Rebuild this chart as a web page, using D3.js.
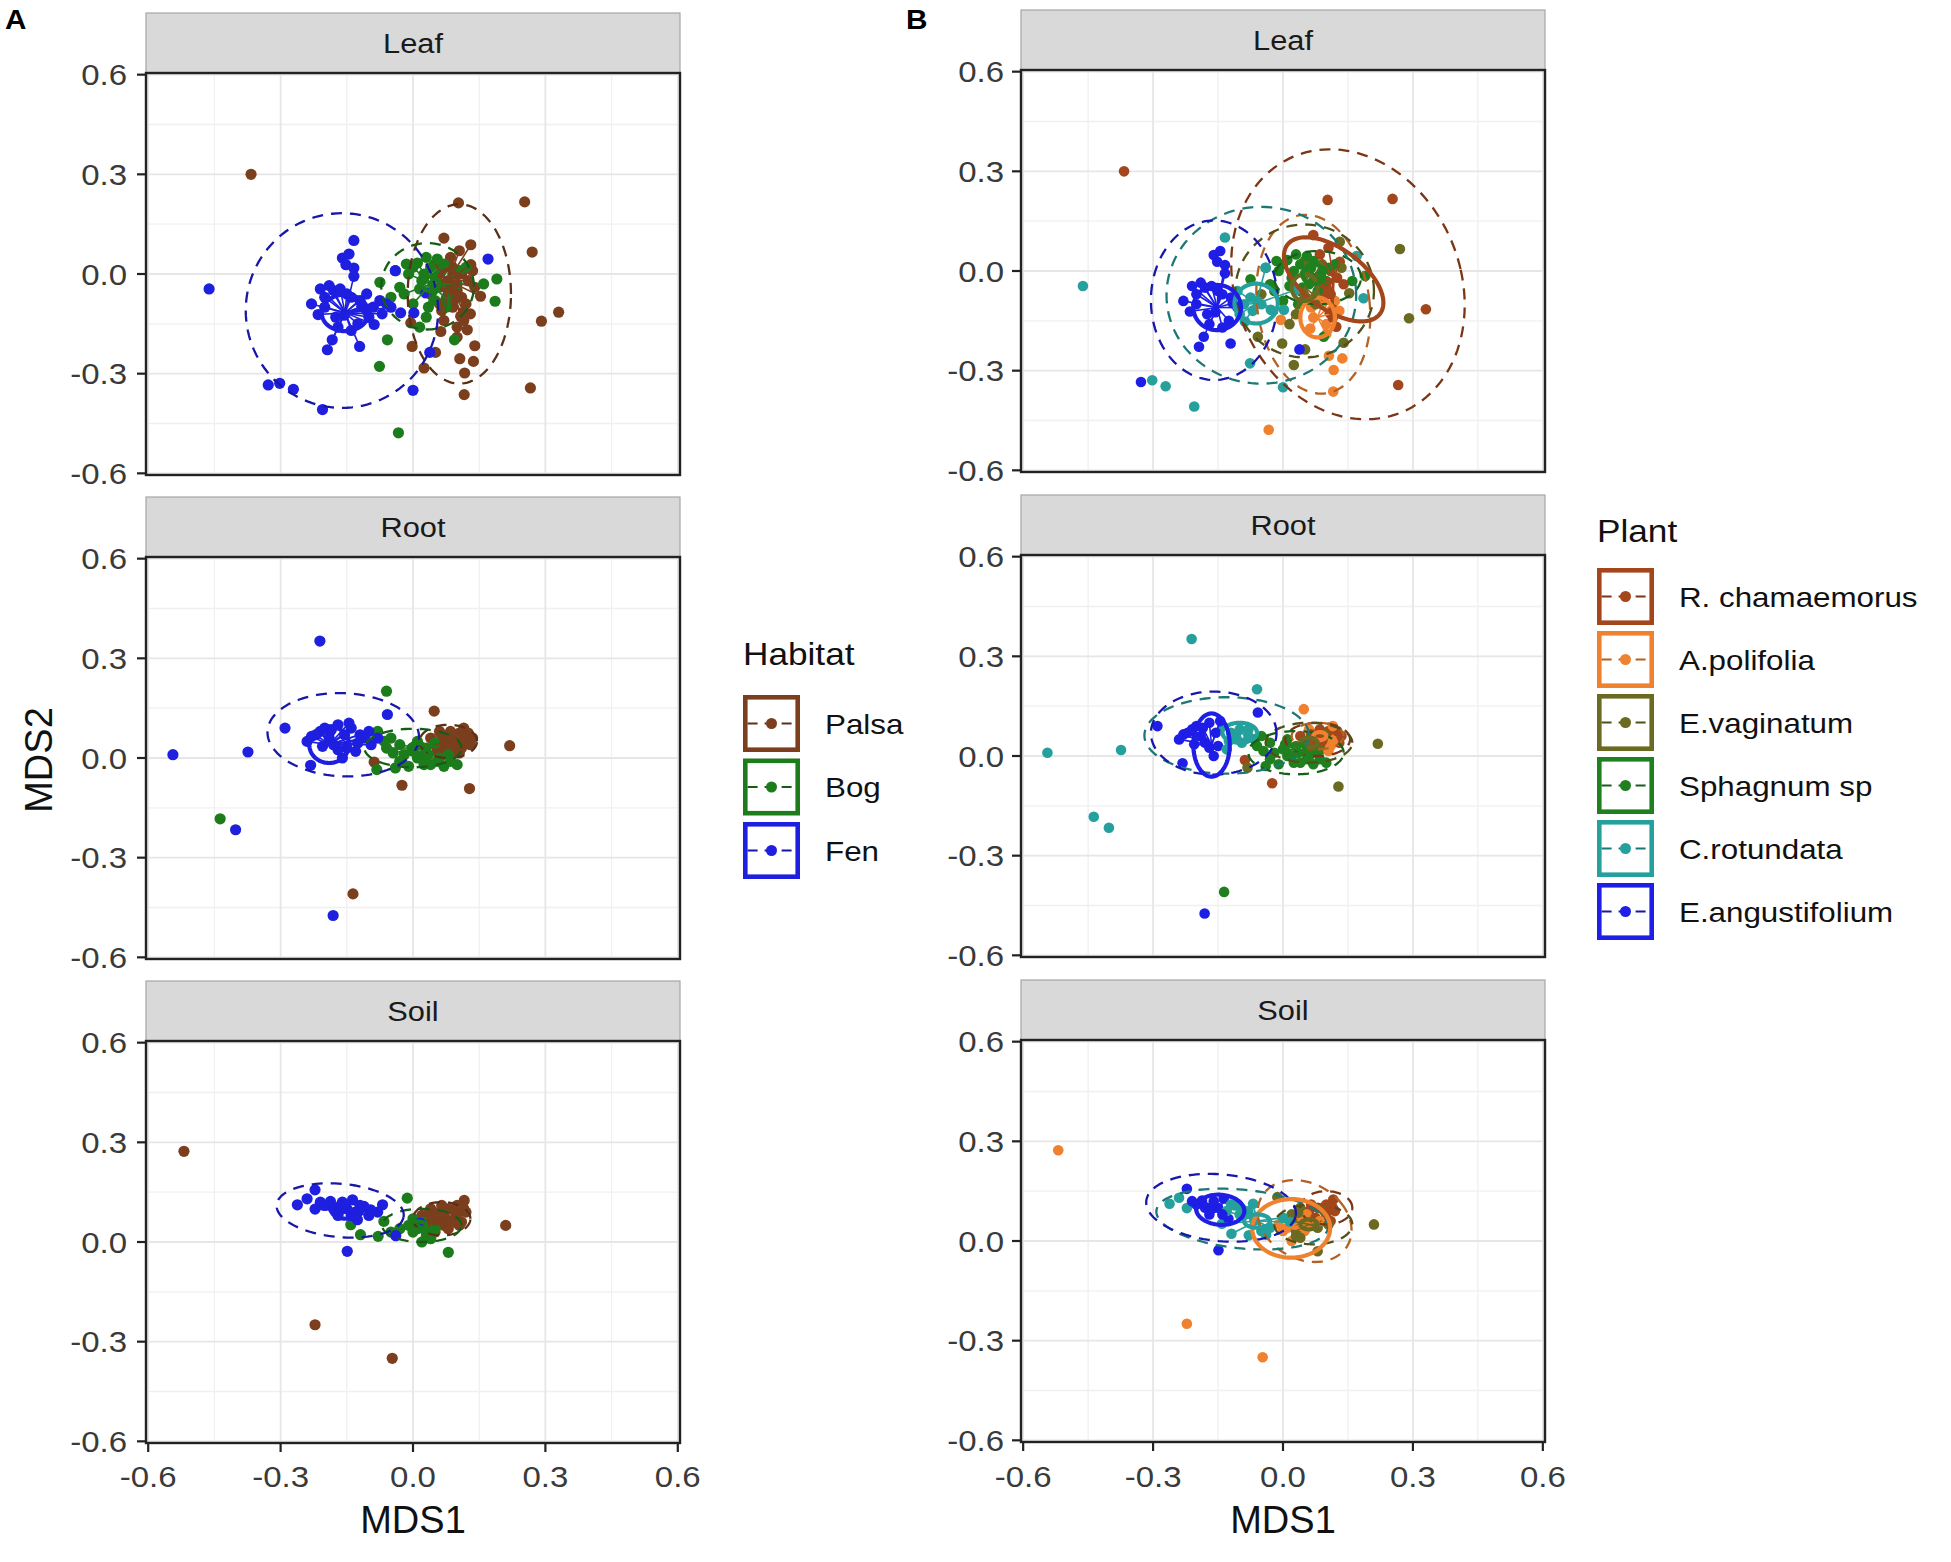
<!DOCTYPE html>
<html><head><meta charset="utf-8">
<script src="https://cdn.jsdelivr.net/npm/d3@7"></script>
<style>body{margin:0;background:#fff} svg{display:block} text{font-family:"Liberation Sans",Arial,sans-serif}</style>
</head><body><svg id="c" width="1951" height="1562"></svg>
<script>
const tissues = ["Leaf","Root","Soil"];
const habitats = ["Palsa","Bog","Fen"];
const habitatColors = ["#7B3F1E","#1C7C1C","#1F1FE0"];
const plants = ["R. chamaemorus","A.polifolia","E.vaginatum","Sphagnum sp","C.rotundata","E.angustifolium"];
const plantColors = ["#A4461C","#F0812F","#6A6A20","#1F801F","#25A09C","#1E1EE6"];
const majorTicks = [-0.6,-0.3,0,0.3,0.6];
const tickLabels = ["-0.6","-0.3","0.0","0.3","0.6"];
const minorTicks = [-0.45,-0.15,0.15,0.45];

// points: [MDS1, MDS2, habitat index, plant index]
const leafPoints = [
 [-0.367,0.300,0,0],[0.103,0.214,0,0],[0.253,0.217,0,0],[0.270,0.066,0,2],[0.330,-0.115,0,0],[0.291,-0.142,0,2],[0.266,-0.343,0,0],[0.116,-0.363,0,1],[0.117,-0.298,0,1],[0.137,-0.263,0,1],[0.106,-0.255,0,1],[0.140,-0.216,0,2],[0.025,-0.283,0,2],[-0.002,-0.218,0,2],[0.051,-0.236,0,2],[0.070,0.108,0,0],[0.131,0.088,0,2],[0.153,-0.067,0,2],[0.131,0.028,0,0],[-0.005,-0.147,0,1],[0.063,-0.173,0,1],[0.123,-0.168,0,0],[0.108,-0.127,0,0],[0.080,-0.020,0,0],[0.100,-0.050,0,0],[0.060,0.000,0,2],[0.120,-0.090,0,1],[0.090,-0.100,0,1],[0.040,-0.060,0,2],[0.110,0.000,0,0],[0.070,-0.140,0,1],[0.140,-0.040,0,0],[0.100,-0.190,0,1],[0.050,0.030,0,2],[0.115,-0.115,0,0],[0.085,0.050,0,0],[0.095,-0.075,0,0],
 [0.070,-0.030,0,0],[0.090,0.020,0,2],[0.110,-0.070,0,0],[0.130,-0.120,0,1],[0.060,-0.090,0,2],[0.100,-0.160,0,1],[0.125,-0.020,0,0],[0.085,-0.045,0,0],[0.065,-0.110,0,1],[0.115,-0.140,0,0],[0.135,0.010,0,2],[0.105,0.070,0,0],
 [-0.033,-0.478,1,1],[-0.076,-0.278,1,4],[-0.058,-0.198,1,2],[-0.075,-0.025,1,3],[0.186,-0.082,1,4],[0.190,-0.015,1,3],[0.094,-0.198,1,3],[0.010,0.033,1,3],[-0.040,0.010,1,3],[-0.030,-0.040,1,3],[0.000,-0.090,1,3],[0.030,-0.130,1,2],[0.040,0.020,1,3],[0.070,0.030,1,3],[0.090,0.000,1,3],[0.060,-0.040,1,3],[0.020,-0.020,1,3],[0.050,-0.080,1,2],[0.080,-0.060,1,3],[0.120,0.020,1,3],[-0.010,0.000,1,3],[0.030,0.050,1,3],[0.100,-0.030,1,3],[-0.050,-0.070,1,2],[0.015,-0.160,1,2],[0.160,-0.030,1,3],[0.050,-0.010,1,3],[0.075,-0.100,1,2],
 [0.000,0.020,1,3],[0.025,0.000,1,3],[0.045,-0.050,1,3],[0.065,0.010,1,3],[0.085,-0.030,1,3],[0.035,-0.100,1,3],[-0.020,-0.060,1,3],[0.055,0.045,1,3],[0.105,0.010,1,3],[0.015,-0.045,1,3],[0.075,-0.075,1,2],[-0.015,0.030,1,3],
 [-0.462,-0.045,2,4],[-0.134,0.101,2,4],[-0.160,0.048,2,5],[-0.152,0.028,2,5],[-0.134,0.018,2,5],[-0.134,-0.007,2,5],[-0.210,-0.045,2,5],[-0.180,-0.050,2,5],[-0.150,-0.060,2,5],[-0.120,-0.080,2,5],[-0.090,-0.100,2,4],[-0.215,-0.122,2,5],[-0.156,-0.124,2,5],[-0.116,-0.097,2,5],[-0.088,-0.152,2,4],[-0.183,-0.198,2,5],[-0.194,-0.228,2,5],[-0.121,-0.218,2,5],[-0.328,-0.334,2,5],[-0.302,-0.329,2,4],[-0.271,-0.347,2,4],[-0.205,-0.408,2,4],[0.000,-0.350,2,4],[0.038,-0.236,2,5],[-0.028,-0.117,2,4],[0.002,-0.117,2,4],[0.170,0.045,2,4],[0.029,-0.057,2,4],[-0.040,0.010,2,4],[-0.200,-0.070,2,5],[-0.170,-0.160,2,5],[-0.100,-0.130,2,4],[-0.060,-0.090,2,4],[-0.230,-0.090,2,5],
 [-0.190,-0.035,2,5],[-0.165,-0.045,2,5],[-0.140,-0.070,2,5],[-0.200,-0.100,2,5],[-0.105,-0.110,2,5],[-0.125,-0.150,2,5],[-0.175,-0.130,2,5],[-0.140,-0.170,2,5],[-0.105,-0.060,2,4],[-0.075,-0.080,2,4],[-0.070,-0.120,2,4],[-0.050,-0.100,2,4],[-0.145,0.060,2,5]
];
const rootPoints = [
 [0.048,0.141,0,1],[0.219,0.037,0,2],[0.128,-0.092,0,2],[-0.025,-0.082,0,0],[-0.088,-0.012,0,0],[-0.136,-0.409,0,3],[0.040,0.060,0,0],[0.060,0.080,0,1],[0.080,0.070,0,1],[0.100,0.050,0,0],[0.120,0.060,0,1],[0.070,0.030,0,0],[0.090,0.020,0,2],[0.050,0.040,0,0],[0.110,0.030,0,1],[0.060,0.000,0,2],[0.090,0.045,0,0],[0.130,0.040,0,0],[0.075,0.055,0,2],[0.105,0.075,0,0],
 [0.085,0.080,0,0],[0.115,0.045,0,1],[0.095,0.065,0,2],[0.065,0.065,0,0],[0.125,0.075,0,0],[0.105,0.015,0,1],[0.075,0.015,0,2],[0.055,0.020,0,0],[0.115,0.090,0,1],[0.135,0.060,0,0],
 [-0.060,0.201,1,4],[-0.437,-0.183,1,4],[-0.082,-0.035,1,2],[-0.080,0.080,1,4],[-0.050,0.060,1,3],[-0.030,0.040,1,3],[0.000,0.020,1,3],[0.020,0.000,1,3],[0.040,-0.020,1,3],[0.060,0.000,1,3],[-0.030,-0.010,1,3],[-0.010,-0.025,1,3],[0.030,0.030,1,2],[0.080,0.010,1,3],[0.100,-0.020,1,3],[-0.040,-0.030,1,3],[0.050,0.045,1,3],[-0.060,0.030,1,3],[0.010,0.050,1,3],
 [-0.020,0.010,1,3],[0.010,0.000,1,3],[0.035,0.010,1,3],[0.055,-0.010,1,3],[0.070,-0.025,1,3],[-0.045,0.015,1,3],[0.005,0.035,1,3],[0.085,-0.010,1,3],[0.025,-0.020,1,3],[-0.065,0.050,1,3],
 [-0.211,0.352,2,4],[-0.544,0.010,2,4],[-0.374,0.018,2,4],[-0.290,0.090,2,5],[-0.402,-0.216,2,4],[-0.181,-0.474,2,5],[-0.232,-0.022,2,5],[-0.058,0.131,2,5],[-0.220,0.070,2,5],[-0.200,0.090,2,5],[-0.170,0.100,2,5],[-0.140,0.090,2,4],[-0.120,0.070,2,4],[-0.180,0.040,2,5],[-0.150,0.030,2,5],[-0.130,0.020,2,4],[-0.240,0.050,2,5],[-0.100,0.080,2,4],[-0.080,0.060,2,4],[-0.190,0.060,2,5],[-0.160,0.000,2,5],
 [-0.210,0.080,2,5],[-0.185,0.085,2,5],[-0.155,0.070,2,5],[-0.125,0.045,2,4],[-0.205,0.035,2,5],[-0.170,0.025,2,5],[-0.110,0.060,2,4],[-0.095,0.040,2,4],[-0.145,0.105,2,5],[-0.230,0.065,2,5]
];
const soilPoints = [
 [-0.519,0.273,0,1],[-0.222,-0.249,0,1],[-0.047,-0.350,0,1],[0.210,0.050,0,2],[0.116,0.125,0,0],[0.040,0.070,0,1],[0.060,0.090,0,0],[0.080,0.100,0,0],[0.030,0.050,0,2],[0.070,0.050,0,1],[0.090,0.060,0,2],[0.050,0.030,0,1],[0.020,0.080,0,2],[0.100,0.080,0,0],[0.080,0.040,0,2],[0.060,0.060,0,1],[0.110,0.060,0,0],[0.040,0.100,0,2],[0.100,0.110,0,0],[0.120,0.090,0,0],
 [0.055,0.080,0,1],[0.075,0.070,0,0],[0.095,0.090,0,2],[0.045,0.050,0,0],[0.085,0.060,0,1],[0.065,0.110,0,0],[0.105,0.050,0,2],[0.035,0.085,0,2],[0.115,0.100,0,0],
 [-0.013,0.132,1,2],[0.080,-0.031,1,2],[-0.066,0.062,1,4],[-0.119,0.022,1,4],[-0.079,0.017,1,4],[-0.141,0.052,1,4],[-0.010,0.050,1,1],[0.010,0.040,1,1],[0.030,0.030,1,2],[0.000,0.070,1,4],[0.020,0.000,1,1],[0.040,0.010,1,2],
 [0.000,0.030,1,1],[0.020,0.060,1,2],[0.050,0.040,1,1],[-0.030,0.040,1,4],[0.030,0.015,1,2],[-0.050,0.030,1,4],
 [-0.262,0.112,2,4],[-0.222,0.157,2,5],[-0.222,0.099,2,4],[-0.187,0.122,2,5],[-0.164,0.097,2,5],[-0.137,0.127,2,5],[-0.111,0.107,2,4],[-0.096,0.097,2,4],[-0.069,0.112,2,4],[-0.126,0.067,2,5],[-0.149,-0.028,2,5],[-0.039,0.019,2,4],[0.016,0.057,2,4],[-0.200,0.110,2,5],[-0.170,0.080,2,5],[-0.150,0.100,2,5],[-0.130,0.090,2,4],
 [-0.240,0.130,2,4],[-0.210,0.120,2,5],[-0.180,0.100,2,5],[-0.160,0.120,2,5],[-0.140,0.080,2,5],[-0.120,0.110,2,4],[-0.100,0.080,2,4],[-0.080,0.090,2,4]
];

// ellipses: [group index, solid(1)/dashed(0), centre MDS1, centre MDS2, radius along axis, radius across, angle deg]
const leafHabitatEllipses = [
 [0,0, 0.105,-0.060, 0.117,0.270, 0],[1,0, 0.033,-0.037, 0.105,0.130, 0],[2,0,-0.161,-0.110, 0.218,0.293, 0],
 [0,1, 0.080,-0.020, 0.022,0.032, 0],[1,1, 0.040,-0.030, 0.020,0.022, 0],[2,1,-0.154,-0.117, 0.053,0.055, 0]
];
const rootHabitatEllipses = [
 [0,0, 0.080,0.050, 0.065,0.050, 0],[1,0, 0.000,0.030, 0.110,0.058, 0],[2,0,-0.158,0.070, 0.172,0.125, -5],
 [0,1, 0.080,0.050, 0.015,0.012, 0],[1,1, 0.010,0.030, 0.020,0.015, 0],[2,1,-0.190,0.040, 0.045,0.055, 0]
];
const soilHabitatEllipses = [
 [0,0, 0.065,0.070, 0.065,0.050, 0],[1,0, 0.020,0.050, 0.090,0.050, 0],[2,0,-0.165,0.095, 0.145,0.080, -8],
 [0,1, 0.060,0.070, 0.020,0.015, 0],[1,1, 0.010,0.050, 0.020,0.012, 0],[2,1,-0.150,0.095, 0.035,0.025, 0]
];
const leafPlantEllipses = [
 [0,0, 0.150,-0.040, 0.264,0.410, 10],[1,0, 0.070,-0.100, 0.130,0.270, 5],[2,0, 0.050,-0.060, 0.160,0.200, 0],
 [3,0, 0.080,-0.020, 0.100,0.080, 0],[4,0,-0.050,-0.073, 0.219,0.266, 0],[5,0,-0.159,-0.088, 0.146,0.240, 0],
 [0,1, 0.117,-0.025, 0.151,0.080, -50],[1,1, 0.080,-0.140, 0.040,0.060, 0],[2,1, 0.050,-0.050, 0.030,0.040, 0],
 [3,1, 0.070,-0.010, 0.025,0.030, 0],[4,1,-0.062,-0.098, 0.050,0.060, 0],[5,1,-0.152,-0.110, 0.055,0.068, 0]
];
const rootPlantEllipses = [
 [0,0, 0.080,0.050, 0.075,0.050, 0],[1,0, 0.080,0.060, 0.060,0.040, 0],[2,0, 0.060,0.040, 0.100,0.060, 0],
 [3,0, 0.030,0.010, 0.110,0.065, 0],[4,0,-0.130,0.062, 0.190,0.115, 0],[5,0,-0.160,0.069, 0.145,0.125, 0],
 [0,1, 0.080,0.050, 0.015,0.012, 0],[1,1, 0.085,0.060, 0.015,0.012, 0],[2,1, 0.060,0.040, 0.020,0.015, 0],
 [3,1, 0.030,0.020, 0.020,0.015, 0],[4,1,-0.100,0.070, 0.040,0.030, 0],[5,1,-0.165,0.033, 0.042,0.095, 0]
];
const soilPlantEllipses = [
 [0,0, 0.100,0.100, 0.060,0.050, 0],[1,0, 0.050,0.060, 0.100,0.130, 30],[2,0, 0.070,0.050, 0.090,0.060, 0],
 [4,0,-0.094,0.066, 0.200,0.088, -8],[5,0,-0.143,0.100, 0.174,0.100, -8],
 [0,1, 0.100,0.100, 0.015,0.012, 0],[1,1, 0.019,0.038, 0.090,0.088, 10],[2,1, 0.060,0.050, 0.020,0.015, 0],
 [4,1,-0.060,0.060, 0.030,0.020, 0],[5,1,-0.145,0.094, 0.056,0.045, -10]
];

const svg = d3.select("#c");
const SX = 1.1; // horizontal stretch of the lettering in the reference

function txt(parent, x, y, s, size, anchor, fill, weight){
  return parent.append("text").attr("transform",`translate(${x},${y}) scale(${SX},1)`)
    .attr("text-anchor",anchor||"start").attr("font-size",size).attr("fill",fill||"#111")
    .attr("font-weight",weight||"normal").text(s);
}

const figA = {x0:146, x1:680, top0:73, step:484, h:402, stripH:60, labelRight:127, groupCol:2, colors:habitatColors,
  points:[leafPoints,rootPoints,soilPoints], ellipses:[leafHabitatEllipses,rootHabitatEllipses,soilHabitatEllipses], r:5.6};
const figB = {x0:1021, x1:1545, top0:70, step:485, h:402, stripH:60, labelRight:1004, groupCol:3, colors:plantColors,
  points:[leafPoints,rootPoints,soilPoints], ellipses:[leafPlantEllipses,rootPlantEllipses,soilPlantEllipses], r:5.3};

function ellipsePts(e, x, y){
  const [g,s,cx,cy,rx,ry,ang] = e;
  const th = ang*Math.PI/180, out=[];
  for(let i=0;i<120;i++){
    const t = i/120*2*Math.PI;
    const dx = rx*Math.cos(t)*Math.cos(th) - ry*Math.sin(t)*Math.sin(th);
    const dy = rx*Math.cos(t)*Math.sin(th) + ry*Math.sin(t)*Math.cos(th);
    out.push([x(cx+dx), y(cy+dy)]);
  }
  return out;
}
function insideness(e, px, py){
  const [g,s,cx,cy,rx,ry,ang] = e;
  const th = ang*Math.PI/180, dx=px-cx, dy=py-cy;
  const u = dx*Math.cos(th)+dy*Math.sin(th), v = -dx*Math.sin(th)+dy*Math.cos(th);
  return Math.sqrt((u/rx)**2+(v/ry)**2);
}

let clipId=0;
function drawFigure(F){
  const x = d3.scaleLinear().domain([-0.605,0.605]).range([F.x0,F.x1]);
  tissues.forEach((tis,k)=>{
    const top = F.top0 + F.step*k, bot = top + F.h;
    const y = d3.scaleLinear().domain([-0.605,0.605]).range([bot,top]);
    const g = svg.append("g");
    g.append("rect").attr("x",F.x0).attr("y",top-F.stripH).attr("width",F.x1-F.x0).attr("height",F.stripH)
      .attr("fill","#D9D9D9").attr("stroke","#A6A6A6").attr("stroke-width",1.2);
    txt(g,(F.x0+F.x1)/2, top-F.stripH/2+10, tis, 28, "middle", "#1A1A1A");
    g.append("rect").attr("x",F.x0).attr("y",top).attr("width",F.x1-F.x0).attr("height",F.h).attr("fill","#fff");
    minorTicks.forEach(v=>{
      g.append("line").attr("x1",x(v)).attr("x2",x(v)).attr("y1",top).attr("y2",bot).attr("stroke","#F0F0F0").attr("stroke-width",1.3);
      g.append("line").attr("y1",y(v)).attr("y2",y(v)).attr("x1",F.x0).attr("x2",F.x1).attr("stroke","#F0F0F0").attr("stroke-width",1.3);
    });
    majorTicks.forEach(v=>{
      g.append("line").attr("x1",x(v)).attr("x2",x(v)).attr("y1",top).attr("y2",bot).attr("stroke","#E6E6E6").attr("stroke-width",1.8);
      g.append("line").attr("y1",y(v)).attr("y2",y(v)).attr("x1",F.x0).attr("x2",F.x1).attr("stroke","#E6E6E6").attr("stroke-width",1.8);
    });
    const cid = "clip"+(clipId++);
    svg.append("clipPath").attr("id",cid).append("rect").attr("x",F.x0).attr("y",top).attr("width",F.x1-F.x0).attr("height",F.h);
    const data = g.append("g").attr("clip-path",`url(#${cid})`);
    const pts = F.points[k], ells = F.ellipses[k];
    data.selectAll("circle.pt").data(pts).join("circle")
      .attr("cx",d=>x(d[0])).attr("cy",d=>y(d[1])).attr("r",F.r)
      .attr("fill",d=>F.colors[d[F.groupCol]]);
    // short spider segments from the group centre to nearby points
    pts.forEach(d=>{
      const gi = d[F.groupCol];
      const de = ells.find(e=>e[0]===gi && e[1]===0), se = ells.find(e=>e[0]===gi && e[1]===1);
      if(!de || !se) return;
      const dist = Math.hypot(d[0]-se[2], d[1]-se[3]);
      if(insideness(de,d[0],d[1]) < 0.6 && dist < 0.13){
        data.append("line").attr("x1",x(se[2])).attr("y1",y(se[3])).attr("x2",x(d[0])).attr("y2",y(d[1]))
          .attr("stroke",F.colors[gi]).attr("stroke-width",1.6);
      }
    });
    const line = d3.line().curve(d3.curveLinearClosed);
    ells.filter(e=>e[1]===0).forEach(e=>{
      data.append("path").attr("d",line(ellipsePts(e,x,y))).attr("fill","none")
        .attr("stroke",d3.color(F.colors[e[0]]).darker(0.8)).attr("stroke-width",2.3).attr("stroke-dasharray","11,8");
    });
    ells.filter(e=>e[1]===1).forEach(e=>{
      data.append("path").attr("d",line(ellipsePts(e,x,y))).attr("fill","none")
        .attr("stroke",F.colors[e[0]]).attr("stroke-width",4.2);
    });
    g.append("rect").attr("x",F.x0).attr("y",top).attr("width",F.x1-F.x0).attr("height",F.h)
      .attr("fill","none").attr("stroke","#222").attr("stroke-width",2.4);
    majorTicks.forEach((v,i)=>{
      g.append("line").attr("x1",F.x0-9).attr("x2",F.x0).attr("y1",y(v)).attr("y2",y(v)).attr("stroke","#222").attr("stroke-width",2.2);
      txt(g, F.labelRight, y(v)+10.5, tickLabels[i], 30, "end", "#3A3A3A");
    });
    if(k===2){
      majorTicks.forEach((v,i)=>{
        g.append("line").attr("x1",x(v)).attr("x2",x(v)).attr("y1",bot).attr("y2",bot+9).attr("stroke","#222").attr("stroke-width",2.2);
        txt(g, x(v), 1487, tickLabels[i], 30, "middle", "#3A3A3A");
      });
      svg.append("text").attr("x",(F.x0+F.x1)/2).attr("y",1533).attr("text-anchor","middle")
        .attr("font-size",38).attr("fill","#111").text("MDS1");
    }
  });
}
drawFigure(figA);
drawFigure(figB);

svg.append("text").attr("transform","translate(52,760) rotate(-90)").attr("text-anchor","middle")
  .attr("font-size",38).attr("fill","#111").text("MDS2");
txt(svg, 5, 29, "A", 27, "start", "#000", "bold");
txt(svg, 906, 29, "B", 27, "start", "#000", "bold");

function legend(x0, titleY, title, names, colors, firstTop, step){
  const g = svg.append("g");
  txt(g, x0, titleY, title, 32, "start", "#111");
  names.forEach((n,i)=>{
    const t = firstTop + i*step, s = 57, c = colors[i];
    g.append("rect").attr("x",x0+2.3).attr("y",t+2.3).attr("width",s-4.6).attr("height",s-4.6)
      .attr("fill","#fff").attr("stroke",c).attr("stroke-width",4.6);
    g.append("line").attr("x1",x0+4.6).attr("x2",x0+s-4.6).attr("y1",t+s/2).attr("y2",t+s/2)
      .attr("stroke",d3.color(c).darker(0.8)).attr("stroke-width",2).attr("stroke-dasharray","10,7");
    g.append("circle").attr("cx",x0+s/2).attr("cy",t+s/2).attr("r",5.5).attr("fill",c);
    txt(g, x0+s+25, t+s/2+10.3, n, 28.5, "start", "#111");
  });
}
legend(743, 665, "Habitat", habitats, habitatColors, 695, 63.5);
legend(1597, 542, "Plant", plants, plantColors, 568, 63);
</script></body></html>
